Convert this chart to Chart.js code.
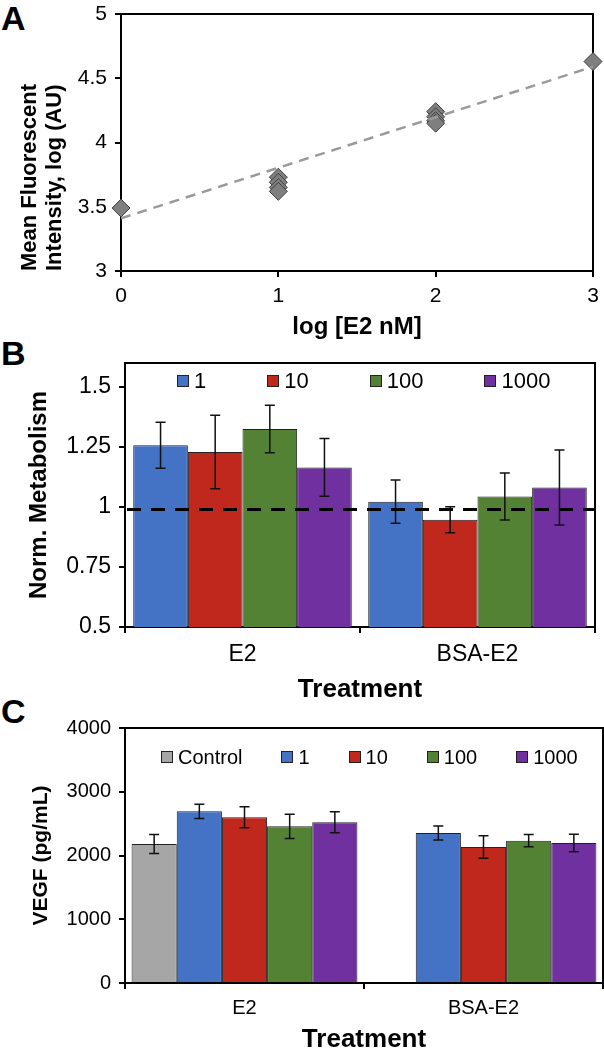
<!DOCTYPE html>
<html>
<head>
<meta charset="utf-8">
<script src="https://cdn.jsdelivr.net/npm/chart.js@4/dist/chart.umd.min.js"></script>
<style>
  body { margin: 0; background: #fff; }
  #page { position: relative; width: 604px; height: 1050px; overflow: hidden; font-family: 'Liberation Sans', Arial, sans-serif; }
  canvas { position: absolute; left: 0; }
  .panel-label { position: absolute; left: 1px; font-size: 34px; font-weight: bold; line-height: 1; color: #000; }
  .legend { position: absolute; display: flex; align-items: center; color: #000; line-height: 1; }
  .legend .item { display: flex; align-items: center; }
  .legend .box { width: 10px; height: 10px; border: 1px solid #222; margin-right: 5px; }
</style>
</head>
<body>
<div id="page">
  <div class="panel-label" style="top:1px">A</div>
  <div class="panel-label" style="top:336px">B</div>
  <div class="panel-label" style="top:694px">C</div>
  <canvas id="chart-a" width="604" height="345" style="top:0"></canvas>
  <canvas id="chart-b" width="604" height="362" style="top:345px"></canvas>
  <canvas id="chart-c" width="604" height="360" style="top:695px"></canvas>
  <div id="legend-b" class="legend" style="left:177px; top:370px; font-size:22px; gap:61px"></div>
  <div id="legend-c" class="legend" style="left:161px; top:747px; font-size:20px; gap:39px"></div>
</div>
<script>
// Panel A data: log [E2 nM] vs mean fluorescent intensity
const doseX = [0, 1, 1, 1, 1, 2, 2, 2, 2, 3];
const intensityY = [3.49, 3.73, 3.69, 3.65, 3.62, 4.24, 4.20, 4.17, 4.15, 4.63];
const trendX = [0, 3];
const trendY = [3.41, 4.59];
const aTicksX = [0, 1, 2, 3];
const aTicksY = [3, 3.5, 4, 4.5, 5];

// Panel B data: normalized metabolism
const treatments = ['E2', 'BSA-E2'];
const bLabels = ['1', '10', '100', '1000'];
const bMeans = [
    [1.257, 1.022],
    [1.229, 0.947],
    [1.325, 1.044],
    [1.165, 1.081]
];
const bErrors = [
    [0.096, 0.090],
    [0.153, 0.054],
    [0.099, 0.098],
    [0.120, 0.156]
];
const bRefLevel = 0.99;
const bTicksY = [0.5, 0.75, 1, 1.25, 1.5];

// Panel C data: VEGF (pg/mL)
const cLabels = ['Control', '1', '10', '100', '1000'];
const cMeans = [
    [2180, null],
    [2693, 2353],
    [2599, 2133],
    [2458, 2233],
    [2520, 2196]
];
const cErrors = [
    [150, null],
    [112, 110],
    [165, 175],
    [190, 97],
    [165, 136]
];
const cTicksY = [0, 1000, 2000, 3000, 4000];

const bColors = ['#4472c4', '#c0271d', '#548235', '#7030a0'];
const cColors = ['#a6a6a6', '#4472c4', '#c0271d', '#548235', '#7030a0'];

const FONT = "'Liberation Sans', Arial, sans-serif";
Chart.defaults.font.family = FONT;
Chart.defaults.color = '#000';
Chart.defaults.animation = false;

// Box around the plot area (top and right edges)
const frame = {
    id: 'frame',
    beforeDatasetsDraw(chart) {
        const { ctx, chartArea: a } = chart;
        ctx.save();
        ctx.strokeStyle = '#000';
        ctx.lineWidth = 2;
        ctx.strokeRect(a.left, a.top, a.right - a.left, a.bottom - a.top);
        ctx.restore();
    }
};

// Error bars from dataset.errors through the y scale
const errorBars = {
    id: 'errorBars',
    afterDatasetsDraw(chart) {
        const { ctx } = chart;
        const yScale = chart.scales.y;
        ctx.save();
        ctx.strokeStyle = '#111';
        ctx.lineWidth = 1.5;
        chart.data.datasets.forEach((ds, i) => {
            if (!ds.errors) return;
            chart.getDatasetMeta(i).data.forEach((bar, j) => {
                const v = ds.data[j];
                const e = ds.errors[j];
                if (v == null || e == null) return;
                const yTop = yScale.getPixelForValue(v + e);
                const yBot = yScale.getPixelForValue(v - e);
                ctx.beginPath();
                ctx.moveTo(bar.x, yTop); ctx.lineTo(bar.x, yBot);
                ctx.moveTo(bar.x - 5, yTop); ctx.lineTo(bar.x + 5, yTop);
                ctx.moveTo(bar.x - 5, yBot); ctx.lineTo(bar.x + 5, yBot);
                ctx.stroke();
            });
        });
        ctx.restore();
    }
};

// Dashed reference line for panel B
const refLine = {
    id: 'refLine',
    afterDatasetsDraw(chart, args, opts) {
        if (opts.value == null) return;
        const { ctx, chartArea: a } = chart;
        const y = chart.scales.y.getPixelForValue(opts.value);
        ctx.save();
        ctx.strokeStyle = '#000';
        ctx.lineWidth = 3;
        ctx.setLineDash([14, 10]);
        ctx.beginPath();
        ctx.moveTo(a.left + 2, y);
        ctx.lineTo(a.right, y);
        ctx.stroke();
        ctx.restore();
    }
};

const tickGrid = { display: true, drawOnChartArea: false, drawTicks: true, tickLength: 6, color: '#000', lineWidth: 2 };
const axisBorder = { display: true, color: '#000', width: 2 };

// Fixed axis sizes so the plot area sits where the layout padding says
const fixWidth = (w) => (scale) => {
    scale.width = w;
    scale.paddingTop = 0;
    scale.paddingBottom = 0;
};
const fixHeight = (h) => (scale) => {
    scale.height = h;
    scale.paddingLeft = 0;
    scale.paddingRight = 0;
};

const yAxis = (ticksList, width, fontSize, title, titleSize, titlePad, titleAlign, min, max) => ({
    type: 'linear',
    min: min,
    max: max,
    afterBuildTicks: (scale) => { scale.ticks = ticksList.map(v => ({ value: v })); },
    afterFit: fixWidth(width),
    grid: tickGrid,
    border: axisBorder,
    ticks: { font: { size: fontSize }, padding: 8, callback: (v) => String(v) },
    title: {
        display: true, text: title, align: titleAlign,
        font: { size: titleSize, weight: 'bold', lineHeight: 1.15 },
        padding: { top: titlePad }
    }
});

const xTitle = (text, size, pad) => ({ display: true, text: text, font: { size: size, weight: 'bold', lineHeight: 1.15 }, padding: { bottom: pad, top: 0 } });

// Panel A
new Chart(document.getElementById('chart-a'), {
    type: 'scatter',
    data: {
        datasets: [{
            type: 'line',
            data: trendX.map((x, i) => ({ x: x, y: trendY[i] })),
            borderColor: '#9a9a9a',
            borderWidth: 2.5,
            borderDash: [10, 7],
            pointRadius: 0,
            order: 0
        }, {
            data: doseX.map((x, i) => ({ x: x, y: intensityY[i] })),
            pointStyle: 'rectRot',
            pointRadius: 9,
            backgroundColor: '#7f7f7f',
            borderColor: '#3f3f3f',
            borderWidth: 1,
            clip: false,
            order: 1
        }]
    },
    options: {
        responsive: false,
        layout: { padding: { left: 0, top: 14, right: 11, bottom: 0 } },
        plugins: { legend: { display: false }, tooltip: { enabled: false } },
        scales: {
            x: {
                type: 'linear', min: 0, max: 3,
                afterBuildTicks: (scale) => { scale.ticks = aTicksX.map(v => ({ value: v })); },
                afterFit: fixHeight(74),
                grid: tickGrid,
                border: axisBorder,
                ticks: { font: { size: 21 }, padding: 7 },
                title: xTitle('log [E2 nM]', 24, 4)
            },
            y: yAxis(aTicksY, 121, 21, ['Mean Fluorescent', 'Intensity, log (AU)'], 22, 17, 'start', 3, 5)
        }
    },
    plugins: [frame]
});

// Panel B
new Chart(document.getElementById('chart-b'), {
    type: 'bar',
    data: {
        labels: treatments,
        datasets: bLabels.map((label, i) => ({
            label: label,
            data: bMeans[i],
            errors: bErrors[i],
            backgroundColor: bColors[i],
            borderColor: '#222',
            borderWidth: 1,
            categoryPercentage: 0.93,
            barPercentage: 1.0
        }))
    },
    options: {
        responsive: false,
        layout: { padding: { left: 0, top: 18, right: 9, bottom: 0 } },
        plugins: { legend: { display: false }, tooltip: { enabled: false }, refLine: { value: bRefLevel } },
        scales: {
            x: {
                afterFit: fixHeight(80),
                grid: tickGrid,
                border: axisBorder,
                ticks: { font: { size: 23 }, padding: 8 },
                title: xTitle('Treatment', 26, 2)
            },
            y: yAxis(bTicksY, 125, 23, 'Norm. Metabolism', 24, 26, 'center', 0.5, 1.6)
        }
    },
    plugins: [frame, errorBars, refLine]
});

// Panel C
new Chart(document.getElementById('chart-c'), {
    type: 'bar',
    data: {
        labels: treatments,
        datasets: cLabels.map((label, i) => ({
            label: label,
            data: cMeans[i],
            errors: cErrors[i],
            backgroundColor: cColors[i],
            borderColor: '#222',
            borderWidth: 1,
            categoryPercentage: 0.945,
            barPercentage: 1.0
        }))
    },
    options: {
        responsive: false,
        layout: { padding: { left: 0, top: 33, right: 1, bottom: 0 } },
        plugins: { legend: { display: false }, tooltip: { enabled: false } },
        scales: {
            x: {
                afterFit: fixHeight(72),
                grid: tickGrid,
                border: axisBorder,
                ticks: { font: { size: 20 }, padding: 7 },
                title: xTitle('Treatment', 26, 0)
            },
            y: yAxis(cTicksY, 125, 20, 'VEGF (pg/mL)', 21, 29, 'center', 0, 4000)
        }
    },
    plugins: [frame, errorBars]
});

// HTML legends built from the series names and colours
const buildLegend = (id, labels, colors) => {
    const el = document.getElementById(id);
    labels.forEach((label, i) => {
        const item = document.createElement('div');
        item.className = 'item';
        const box = document.createElement('span');
        box.className = 'box';
        box.style.background = colors[i];
        const text = document.createElement('span');
        text.textContent = label;
        item.appendChild(box);
        item.appendChild(text);
        el.appendChild(item);
    });
};
buildLegend('legend-b', bLabels, bColors);
buildLegend('legend-c', cLabels, cColors);
</script>
</body>
</html>
